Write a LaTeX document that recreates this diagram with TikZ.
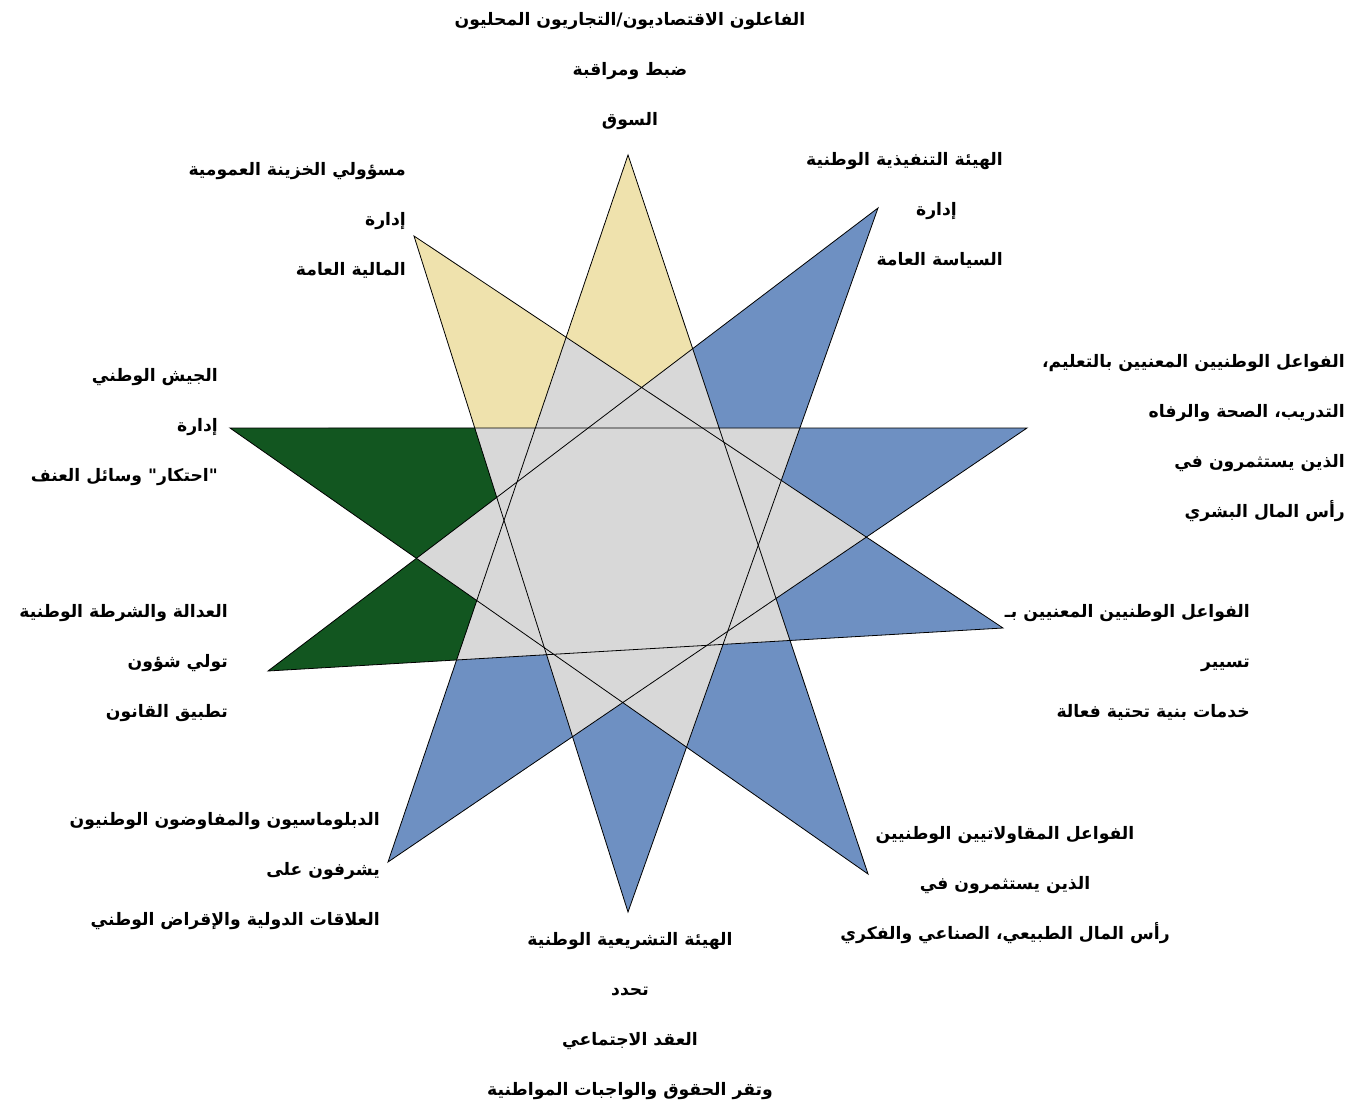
\documentclass[tikz,border=0pt]{standalone}
\usepackage{fontspec}
\usepackage{xcolor}
\newfontfamily\arabicfont[Script=Arabic]{DejaVu Sans}
\TeXXeTstate=1
\newcommand{\arline}[1]{\beginR #1\endR}
\definecolor{stargray}{RGB}{216,216,216}
\definecolor{staryellow}{RGB}{239,226,173}
\definecolor{starblue}{RGB}{110,144,194}
\definecolor{stargreen}{RGB}{18,86,32}

\begin{document}
\begin{tikzpicture}[x=1pt, y=-1pt,
  artext/.style={font=\arabicfont\bfseries\fontsize{17.2}{50}\selectfont, inner sep=0pt},
  starline/.style={draw=black, line width=0.8pt, line join=miter}]
  \useasboundingbox (0,0) rectangle (1365,1110);

  % Tips of the star
  \coordinate (t0) at (628,155);
  \coordinate (t1) at (878,208);
  \coordinate (t2) at (1027,428);
  \coordinate (t3) at (1003,628);
  \coordinate (t4) at (868,874);
  \coordinate (t5) at (628,912);
  \coordinate (t6) at (388,862);
  \coordinate (t7) at (268,671);
  \coordinate (t8) at (230,428);
  \coordinate (t9) at (414,236);

  % Concave corners between two tips
  \coordinate (c0) at (intersection of t0--t6 and t9--t3);
  \coordinate (c1) at (intersection of t1--t7 and t0--t4);
  \coordinate (c2) at (intersection of t2--t8 and t1--t5);
  \coordinate (c3) at (intersection of t3--t9 and t2--t6);
  \coordinate (c4) at (intersection of t4--t0 and t3--t7);
  \coordinate (c5) at (intersection of t5--t1 and t4--t8);
  \coordinate (c6) at (intersection of t6--t2 and t5--t9);
  \coordinate (c7) at (intersection of t7--t3 and t6--t0);
  \coordinate (c8) at (intersection of t8--t4 and t7--t1);
  \coordinate (c9) at (intersection of t9--t5 and t8--t2);

  % Inner corners of the points
  \coordinate (m0) at (intersection of t9--t3 and t1--t7);
  \coordinate (m1) at (intersection of t0--t4 and t2--t8);
  \coordinate (m2) at (intersection of t1--t5 and t3--t9);
  \coordinate (m3) at (intersection of t2--t6 and t4--t0);
  \coordinate (m4) at (intersection of t3--t7 and t5--t1);
  \coordinate (m5) at (intersection of t4--t8 and t6--t2);
  \coordinate (m6) at (intersection of t5--t9 and t7--t3);
  \coordinate (m7) at (intersection of t6--t0 and t8--t4);
  \coordinate (m8) at (intersection of t7--t1 and t9--t5);
  \coordinate (m9) at (intersection of t8--t2 and t0--t6);

  % Body of the star
  \fill[stargray] (t0) -- (c1) -- (t1) -- (c2) -- (t2) -- (c3) -- (t3) -- (c4) -- (t4) -- (c5)
    -- (t5) -- (c6) -- (t6) -- (c7) -- (t7) -- (c8) -- (t8) -- (c9) -- (t9) -- (c0) -- cycle;

  % Points
  \fill[staryellow] (t0) -- (c0) -- (m0) -- (c1) -- cycle;
  \fill[starblue] (t1) -- (c1) -- (m1) -- (c2) -- cycle;
  \fill[starblue] (t2) -- (c2) -- (m2) -- (c3) -- cycle;
  \fill[starblue] (t3) -- (c3) -- (m3) -- (c4) -- cycle;
  \fill[starblue] (t4) -- (c4) -- (m4) -- (c5) -- cycle;
  \fill[starblue] (t5) -- (c5) -- (m5) -- (c6) -- cycle;
  \fill[starblue] (t6) -- (c6) -- (m6) -- (c7) -- cycle;
  \fill[stargreen] (t7) -- (c7) -- (m7) -- (c8) -- cycle;
  \fill[stargreen] (t8) -- (c8) -- (m8) -- (c9) -- cycle;
  \fill[staryellow] (t9) -- (c9) -- (m9) -- (c0) -- cycle;

  % Two pentagrams
  \draw[starline] (t0) -- (t4) -- (t8) -- (t2) -- (t6) -- cycle;
  \draw[starline] (t1) -- (t5) -- (t9) -- (t3) -- (t7) -- cycle;

  % Labels
  \node[artext, align=center, anchor=north] (market) at (630,12)
    {\arline{الفاعلون الاقتصاديون/التجاريون المحليون}\\ \arline{ضبط ومراقبة}\\ \arline{السوق}};
  \node[artext, align=right, anchor=north east] (executive) at (1003,152)
    {\arline{الهيئة التنفيذية الوطنية}\\ \arline{إدارة}\rule{46pt}{0pt}\\ \arline{السياسة العامة}};
  \node[artext, align=right, anchor=north east] (education) at (1345,354)
    {\arline{الفواعل الوطنيين المعنيين بالتعليم،}\\ \arline{التدريب، الصحة والرفاه}\\
     \arline{الذين يستثمرون في}\\ \arline{رأس المال البشري}};
  \node[artext, align=right, anchor=north east] (infra) at (1250,604)
    {\arline{الفواعل الوطنيين المعنيين بـ}\\ \arline{تسيير}\\ \arline{خدمات بنية تحتية فعالة}};
  \node[artext, align=center, anchor=north] (enterprise) at (1005,826)
    {\arline{الفواعل المقاولاتيين الوطنيين}\\ \arline{الذين يستثمرون في}\\
     \arline{رأس المال الطبيعي، الصناعي والفكري}};
  \node[artext, align=center, anchor=north] (legislature) at (630,932)
    {\arline{الهيئة التشريعية الوطنية}\\ \arline{تحدد}\\ \arline{العقد الاجتماعي}\\
     \arline{وتقر الحقوق والواجبات المواطنية}};
  \node[artext, align=right, anchor=north east] (diplomacy) at (380,812)
    {\arline{الدبلوماسيون والمفاوضون الوطنيون}\\ \arline{يشرفون على}\\
     \arline{العلاقات الدولية والإقراض الوطني}};
  \node[artext, align=right, anchor=north east] (justice) at (228,604)
    {\arline{العدالة والشرطة الوطنية}\\ \arline{تولي شؤون}\\ \arline{تطبيق القانون}};
  \node[artext, align=right, anchor=north east] (army) at (218,368)
    {\arline{الجيش الوطني}\\ \arline{إدارة}\\ \arline{"احتكار" وسائل العنف}};
  \node[artext, align=right, anchor=north east] (treasury) at (406,162)
    {\arline{مسؤولي الخزينة العمومية}\\ \arline{إدارة}\\ \arline{المالية العامة}};
\end{tikzpicture}
\end{document}
